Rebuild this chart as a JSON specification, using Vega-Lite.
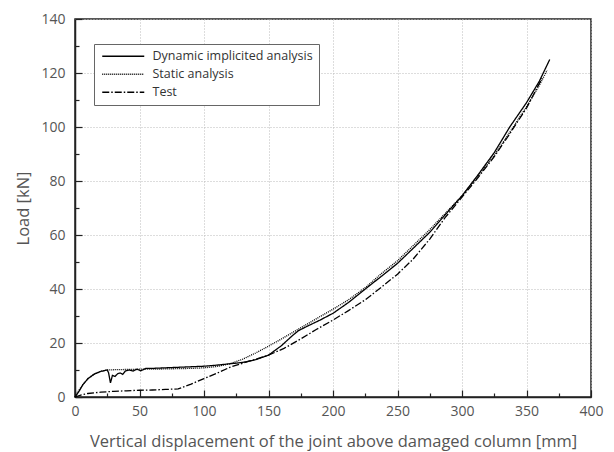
{
  "$schema": "https://vega.github.io/schema/vega-lite/v6.json",
  "width": 516,
  "height": 378,
  "autosize": {"type": "none"},
  "padding": {"left": 75, "top": 19, "right": 23, "bottom": 55},
  "background": "white",
  "config": {
    "font": "Open Sans",
    "view": {"stroke": "#222", "strokeWidth": 1.5},
    "axis": {
      "domainColor": "#222",
      "domainWidth": 1.5,
      "tickColor": "#222",
      "tickWidth": 1.2,
      "labelFont": "Open Sans",
      "labelFontSize": 14,
      "labelColor": "#555",
      "titleFont": "Open Sans",
      "titleFontSize": 16.5,
      "titleFontWeight": "normal",
      "titleColor": "#555",
      "gridColor": "#bbb",
      "gridDash": [1, 2],
      "gridWidth": 1
    }
  },
  "data": {
    "values": [
      {"s": "Dynamic implicited analysis", "x": 0, "y": 0},
      {"s": "Dynamic implicited analysis", "x": 3, "y": 2},
      {"s": "Dynamic implicited analysis", "x": 6, "y": 4.5},
      {"s": "Dynamic implicited analysis", "x": 10, "y": 6.8},
      {"s": "Dynamic implicited analysis", "x": 15, "y": 8.5},
      {"s": "Dynamic implicited analysis", "x": 20, "y": 9.5},
      {"s": "Dynamic implicited analysis", "x": 25, "y": 10},
      {"s": "Dynamic implicited analysis", "x": 26, "y": 9},
      {"s": "Dynamic implicited analysis", "x": 27.5, "y": 5.2},
      {"s": "Dynamic implicited analysis", "x": 29, "y": 8},
      {"s": "Dynamic implicited analysis", "x": 31, "y": 7.6},
      {"s": "Dynamic implicited analysis", "x": 33, "y": 8.6},
      {"s": "Dynamic implicited analysis", "x": 35, "y": 8.9},
      {"s": "Dynamic implicited analysis", "x": 37, "y": 8.4},
      {"s": "Dynamic implicited analysis", "x": 39, "y": 9.6},
      {"s": "Dynamic implicited analysis", "x": 42, "y": 10},
      {"s": "Dynamic implicited analysis", "x": 45, "y": 9.6},
      {"s": "Dynamic implicited analysis", "x": 48, "y": 10.3},
      {"s": "Dynamic implicited analysis", "x": 51, "y": 9.7},
      {"s": "Dynamic implicited analysis", "x": 55, "y": 10.6},
      {"s": "Dynamic implicited analysis", "x": 60, "y": 10.6},
      {"s": "Dynamic implicited analysis", "x": 70, "y": 10.8},
      {"s": "Dynamic implicited analysis", "x": 80, "y": 11},
      {"s": "Dynamic implicited analysis", "x": 90, "y": 11.2},
      {"s": "Dynamic implicited analysis", "x": 100, "y": 11.4},
      {"s": "Dynamic implicited analysis", "x": 110, "y": 11.8},
      {"s": "Dynamic implicited analysis", "x": 120, "y": 12.3},
      {"s": "Dynamic implicited analysis", "x": 130, "y": 12.8},
      {"s": "Dynamic implicited analysis", "x": 140, "y": 13.8},
      {"s": "Dynamic implicited analysis", "x": 150, "y": 15.5},
      {"s": "Dynamic implicited analysis", "x": 160, "y": 19},
      {"s": "Dynamic implicited analysis", "x": 168, "y": 22.5},
      {"s": "Dynamic implicited analysis", "x": 173, "y": 24.5},
      {"s": "Dynamic implicited analysis", "x": 180, "y": 26.2},
      {"s": "Dynamic implicited analysis", "x": 190, "y": 28.5},
      {"s": "Dynamic implicited analysis", "x": 200, "y": 31},
      {"s": "Dynamic implicited analysis", "x": 212, "y": 35},
      {"s": "Dynamic implicited analysis", "x": 225, "y": 40},
      {"s": "Dynamic implicited analysis", "x": 237, "y": 44.5},
      {"s": "Dynamic implicited analysis", "x": 250, "y": 49.5},
      {"s": "Dynamic implicited analysis", "x": 262, "y": 55},
      {"s": "Dynamic implicited analysis", "x": 275, "y": 61},
      {"s": "Dynamic implicited analysis", "x": 287, "y": 67.5},
      {"s": "Dynamic implicited analysis", "x": 300, "y": 74.5},
      {"s": "Dynamic implicited analysis", "x": 312, "y": 82},
      {"s": "Dynamic implicited analysis", "x": 325, "y": 90.5},
      {"s": "Dynamic implicited analysis", "x": 337, "y": 100},
      {"s": "Dynamic implicited analysis", "x": 350, "y": 109},
      {"s": "Dynamic implicited analysis", "x": 360, "y": 117},
      {"s": "Dynamic implicited analysis", "x": 368, "y": 125},
      {"s": "Static analysis", "x": 0, "y": 0},
      {"s": "Static analysis", "x": 3, "y": 2.5},
      {"s": "Static analysis", "x": 6, "y": 4.5},
      {"s": "Static analysis", "x": 10, "y": 6.8},
      {"s": "Static analysis", "x": 15, "y": 8.5},
      {"s": "Static analysis", "x": 20, "y": 9.5},
      {"s": "Static analysis", "x": 25, "y": 10},
      {"s": "Static analysis", "x": 30, "y": 10.1},
      {"s": "Static analysis", "x": 40, "y": 10.2},
      {"s": "Static analysis", "x": 50, "y": 10.3},
      {"s": "Static analysis", "x": 60, "y": 10.3},
      {"s": "Static analysis", "x": 70, "y": 10.4},
      {"s": "Static analysis", "x": 80, "y": 10.5},
      {"s": "Static analysis", "x": 90, "y": 10.6},
      {"s": "Static analysis", "x": 100, "y": 10.8},
      {"s": "Static analysis", "x": 110, "y": 11.3},
      {"s": "Static analysis", "x": 120, "y": 12.3},
      {"s": "Static analysis", "x": 130, "y": 14},
      {"s": "Static analysis", "x": 140, "y": 16.3},
      {"s": "Static analysis", "x": 150, "y": 18.8},
      {"s": "Static analysis", "x": 160, "y": 21.5},
      {"s": "Static analysis", "x": 172, "y": 24.8},
      {"s": "Static analysis", "x": 180, "y": 27},
      {"s": "Static analysis", "x": 190, "y": 29.8},
      {"s": "Static analysis", "x": 200, "y": 32.5},
      {"s": "Static analysis", "x": 212, "y": 36},
      {"s": "Static analysis", "x": 225, "y": 40.5},
      {"s": "Static analysis", "x": 237, "y": 45.5},
      {"s": "Static analysis", "x": 250, "y": 50.5},
      {"s": "Static analysis", "x": 262, "y": 56},
      {"s": "Static analysis", "x": 275, "y": 62},
      {"s": "Static analysis", "x": 287, "y": 68},
      {"s": "Static analysis", "x": 300, "y": 74.5},
      {"s": "Static analysis", "x": 312, "y": 81.5},
      {"s": "Static analysis", "x": 325, "y": 89.5},
      {"s": "Static analysis", "x": 337, "y": 98},
      {"s": "Static analysis", "x": 350, "y": 107.5},
      {"s": "Static analysis", "x": 360, "y": 115.5},
      {"s": "Static analysis", "x": 366, "y": 121},
      {"s": "Test", "x": 0, "y": 0},
      {"s": "Test", "x": 5, "y": 0.8},
      {"s": "Test", "x": 10, "y": 1.3},
      {"s": "Test", "x": 20, "y": 1.8},
      {"s": "Test", "x": 30, "y": 2.1},
      {"s": "Test", "x": 40, "y": 2.3},
      {"s": "Test", "x": 50, "y": 2.5},
      {"s": "Test", "x": 60, "y": 2.6},
      {"s": "Test", "x": 70, "y": 2.8},
      {"s": "Test", "x": 80, "y": 3},
      {"s": "Test", "x": 90, "y": 4.8},
      {"s": "Test", "x": 100, "y": 6.8},
      {"s": "Test", "x": 110, "y": 8.8},
      {"s": "Test", "x": 120, "y": 11},
      {"s": "Test", "x": 130, "y": 12.5},
      {"s": "Test", "x": 140, "y": 14},
      {"s": "Test", "x": 150, "y": 15.5},
      {"s": "Test", "x": 162, "y": 18},
      {"s": "Test", "x": 175, "y": 21.5},
      {"s": "Test", "x": 187, "y": 25},
      {"s": "Test", "x": 200, "y": 28.5},
      {"s": "Test", "x": 212, "y": 32},
      {"s": "Test", "x": 225, "y": 36},
      {"s": "Test", "x": 237, "y": 40.5},
      {"s": "Test", "x": 250, "y": 45.5},
      {"s": "Test", "x": 262, "y": 51},
      {"s": "Test", "x": 275, "y": 58.5},
      {"s": "Test", "x": 287, "y": 66.5},
      {"s": "Test", "x": 300, "y": 74},
      {"s": "Test", "x": 312, "y": 81},
      {"s": "Test", "x": 325, "y": 89},
      {"s": "Test", "x": 337, "y": 97.5},
      {"s": "Test", "x": 350, "y": 107},
      {"s": "Test", "x": 362, "y": 118}
    ]
  },
  "mark": {"type": "line", "color": "black", "strokeWidth": 1.3},
  "encoding": {
    "x": {
      "field": "x",
      "type": "quantitative",
      "scale": {"domain": [0, 400], "nice": false},
      "axis": {
        "title": "Vertical displacement of the joint above damaged column [mm]",
        "values": [0, 25, 50, 75, 100, 125, 150, 175, 200, 225, 250, 275, 300, 325, 350, 375, 400],
        "labelExpr": "datum.value % 50 === 0 ? datum.label : ''",
        "tickSize": {"condition": {"test": "datum.value % 50 === 0", "value": -7}, "value": -4},
        "gridOpacity": {"condition": {"test": "datum.value % 50 === 0", "value": 1}, "value": 0},
        "labelPadding": 14,
        "titlePadding": 15,
        "labelFlush": false
      }
    },
    "y": {
      "field": "y",
      "type": "quantitative",
      "scale": {"domain": [0, 140], "nice": false},
      "axis": {
        "title": "Load [kN]",
        "values": [0, 10, 20, 30, 40, 50, 60, 70, 80, 90, 100, 110, 120, 130, 140],
        "labelExpr": "datum.value % 20 === 0 ? datum.label : ''",
        "tickSize": {"condition": {"test": "datum.value % 20 === 0", "value": -7}, "value": -4},
        "gridOpacity": {"condition": {"test": "datum.value % 20 === 0", "value": 1}, "value": 0},
        "labelPadding": 17,
        "titlePadding": 9,
        "labelFlush": false
      }
    },
    "strokeDash": {
      "field": "s",
      "type": "nominal",
      "scale": {
        "domain": ["Dynamic implicited analysis", "Static analysis", "Test"],
        "range": [[1, 0], [1, 1], [7, 2, 1.5, 2]]
      },
      "legend": {
        "title": null,
        "orient": "none",
        "legendX": 19,
        "legendY": 25,
        "strokeColor": "#666",
        "fillColor": "white",
        "padding": 6,
        "symbolType": "M-5,0H5",
        "symbolSize": 70.6,
        "symbolOffset": 17,
        "symbolStrokeColor": "black",
        "symbolStrokeWidth": 1.3,
        "labelFontSize": 12.5,
        "labelColor": "#333",
        "labelFont": "Open Sans",
        "labelLimit": 300,
        "rowPadding": 5,
        "labelOffset": 23
      }
    }
  }
}
